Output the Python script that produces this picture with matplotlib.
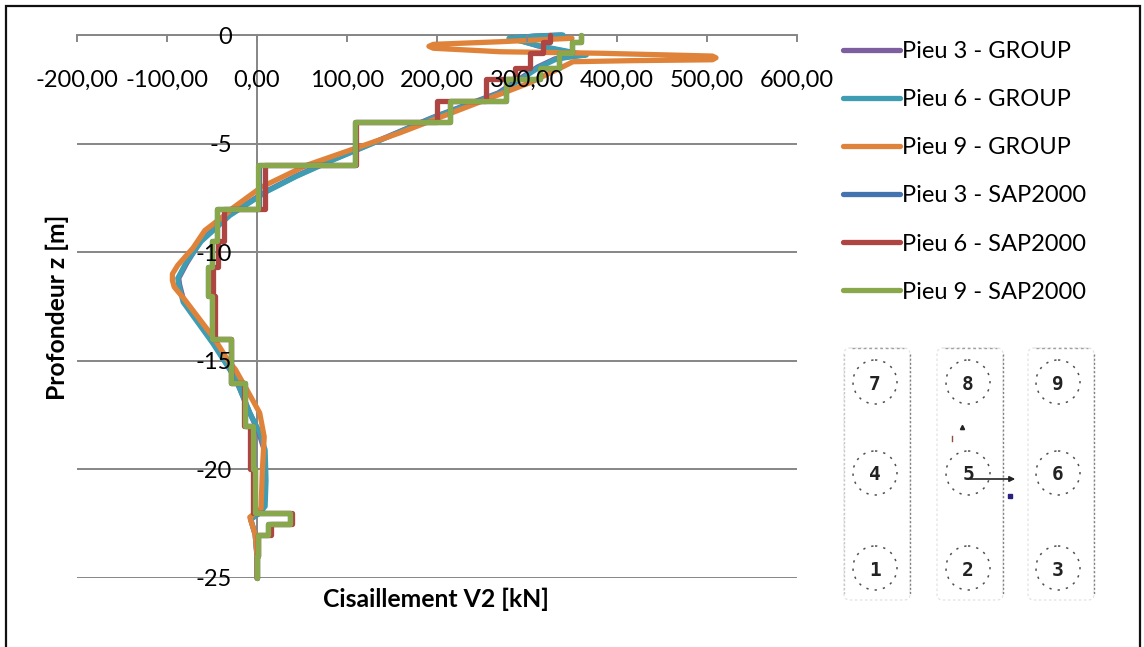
import matplotlib
matplotlib.use('Agg')
import matplotlib.pyplot as plt
from matplotlib.patches import Rectangle, FancyBboxPatch, Circle

plt.rcParams['font.family'] = ['Lato', 'DejaVu Sans']
plt.rcParams['axes.unicode_minus'] = False

# valeurs
x_ticks = [-200, -100, 0, 100, 200, 300, 400, 500, 600]
x_labels = ['-200,00', '-100,00', '0,00', '100,00', '200,00', '300,00', '400,00', '500,00', '600,00']
y_ticks = [0, -5, -10, -15, -20, -25]

# courbes GROUP
z_p6g = [0, -0.05, -0.15, -0.3, -0.5, -0.75, -0.92, -1.0, -1.1, -1.47, -2.67, -3.8, -5.0, -5.76, -6.5, -7.2, -8.3, -9.5, -10.5, -11.2, -11.5, -12.3, -14.2, -15.8, -17.4, -18.3, -19.1, -20.5, -21.7, -22.0, -22.3, -23, -24, -25]
v_p6g = [340, 310, 280, 295, 314, 345, 366, 350, 333, 314, 270, 196, 128, 84, 44, 11, -30, -62, -79, -88, -87, -82, -49, -24, -8, 3, 9, 10, 9, 3, -7, -2, 0, 0]
z_p3g = z_p6g
v_p3g = [338, 308, 282, 296, 312, 342, 362, 347, 331, 312, 268, 195, 127, 83, 43, 10, -31, -63, -78, -87, -86, -81, -48, -24, -8, 2, 8, 9, 8, 3, -7, -2, 0, 0]
z_p9g = [-0.15, -0.31, -0.43, -0.52, -0.61, -0.77, -0.84, -0.97, -1.05, -1.14, -1.18, -1.23, -1.46, -2.2, -4.5, -6, -7, -8, -8.3, -9, -9.8, -10.6, -11, -11.3, -11.6, -12.2, -14, -15, -15.4, -16.5, -17.4, -18.5, -20, -21.8, -22.2, -23, -23.9, -25]
v_p9g = [350, 270, 196, 191, 196, 270, 381, 506, 510, 506, 418, 351, 340, 303, 159, 55, 5, -28, -36, -58, -71, -88, -94, -94, -92, -80, -47, -32, -24, -9, 3, 8, 6, 4.5, -8, -2, 0, 0]

# courbes SAP2000 (paliers)
z_sap = [0, -0.31, -0.31, -0.85, -0.85, -1.53, -1.53, -2.04, -2.04, -3.03, -3.03, -4, -4, -6, -6, -8, -8, -9.5, -9.5, -10.7, -10.7, -12, -12, -14, -14, -16, -16, -18, -18, -20, -20, -22, -22, -22.5, -22.5, -23, -23, -24, -24, -25]
v_p3s = [360, 360, 350, 350, 335, 335, 314, 314, 277, 277, 214, 214, 109, 109, 2, 2, -44, -44, -50, -50, -55, -55, -50, -50, -29, -29, -13, -13, -4, -4, -2, -2, 37, 37, 12, 12, 1, 1, 0, 0]
v_p6s = [325, 325, 318, 318, 303, 303, 287, 287, 254, 254, 200, 200, 110, 110, 9, 9, -37, -37, -43, -43, -49, -49, -47, -47, -29, -29, -15, -15, -8, -8, -5, -5, 39, 39, 16, 16, 1, 1, 0, 0]
v_p9s = [360, 360, 350, 350, 335, 335, 314, 314, 277, 277, 214, 214, 109, 109, 1, 1, -44, -44, -50, -50, -55, -55, -50, -50, -29, -29, -13, -13, -4, -4, -2, -2, 37, 37, 12, 12, 1, 1, 0, 0]

W, H = 1144, 647
fig = plt.figure(figsize=(W / 100, H / 100), dpi=100)
# le cadre sort de l'image en bas
fig.patches.append(Rectangle((6 / W, 1 - 660 / H), 1134 / W, 654 / H, transform=fig.transFigure,
                             fill=False, ec='#111111', lw=1.6))

ax = fig.add_axes([77 / W, 1 - 578 / H, 720 / W, 543 / H])
ax.set_xlim(-200, 600)
ax.set_ylim(-25, 0)
ax.patch.set_alpha(0)
ax.set_axisbelow(False)

gris = '#868686'
ax.hlines(y_ticks, -200, 600, color=gris, lw=1.4, zorder=1)
for s in ['top', 'right']:
    ax.spines[s].set_visible(False)
ax.spines['bottom'].set_position(('data', 0))
ax.spines['left'].set_position(('data', 0))
for s in ['bottom', 'left']:
    ax.spines[s].set_color(gris)
    ax.spines[s].set_linewidth(1.4)
    ax.spines[s].set_zorder(1)

ax.set_xticks(x_ticks, x_labels)
ax.set_yticks(y_ticks)
ax.tick_params(axis='x', direction='out', length=5, width=1.4, color=gris, pad=20, labelsize=17)
ax.tick_params(axis='y', length=0, pad=18, labelsize=17)

lw = 3.8
style = dict(lw=lw, clip_on=False, solid_capstyle='round', solid_joinstyle='round')
ax.plot(v_p3g, z_p3g, color='#7D5FA0', label='Pieu 3 - GROUP', **style)
ax.plot(v_p6g, z_p6g, color='#3E9DB3', label='Pieu 6 - GROUP', **style)
ax.plot(v_p9g, z_p9g, color='#E0833A', label='Pieu 9 - GROUP', **style)
ax.plot(v_p3s, z_sap, color='#4474B0', label='Pieu 3 - SAP2000', **style)
ax.plot(v_p6s, z_sap, color='#AE4543', label='Pieu 6 - SAP2000', **style)
ax.plot(v_p9s, z_sap, color='#88A84B', label='Pieu 9 - SAP2000', **style)

fig.text(436 / W, 1 - 599 / H, 'Cisaillement V2 [kN]', ha='center', va='center', fontsize=17.8, fontweight='bold')
fig.text(57 / W, 1 - 307 / H, 'Profondeur z [m]', ha='center', va='center', rotation=90, fontsize=17.8, fontweight='bold')

ax.legend(loc='upper left', bbox_to_anchor=(843 / W, 1 - 41 / H), bbox_transform=fig.transFigure,
          frameon=False, fontsize=17, handlelength=2.41, handletextpad=0.08, labelspacing=1.15,
          borderaxespad=0, borderpad=0)

# schema des pieux, en pixels de l'image
sch = fig.add_axes([0, 0, 1, 1])
sch.set_xlim(0, W)
sch.set_ylim(H, 0)
sch.axis('off')
sch.patch.set_alpha(0)
for x0, x1 in [(844, 910), (937, 1003), (1028, 1094)]:
    sch.add_patch(FancyBboxPatch((x0 + 6, 354), x1 - x0 - 12, 240, boxstyle='round,pad=6', fill=False,
                                 ec='#e2e2e2', lw=0.9, ls=(0, (2, 2))))
    sch.plot([x0 + 8, x1 - 6], [348, 348], color='#a0a0a0', lw=1, ls=(0, (2, 2)))
    sch.plot([x1, x1], [354, 594], color='#808080', lw=1, ls=(0, (1.5, 1.5)))
sch.plot([844, 844], [354, 594], color='#c8c8c8', lw=1, ls=(0, (1.5, 1.5)))
piles = [('7', 875, 382), ('8', 968, 382), ('9', 1058, 382),
         ('4', 875, 473), ('5', 968, 473), ('6', 1058, 473),
         ('1', 875, 568), ('2', 968, 568), ('3', 1058, 568)]
for nom, cx, cy in piles:
    sch.add_patch(Circle((cx, cy), 22, fill=False, ec='#505050', lw=1.1, ls=(0, (1.5, 4))))
    sch.text(cx, cy + 2, nom, ha='center', va='center', fontsize=14, fontweight='bold', color='#222222',
             family='DejaVu Sans Mono')
sch.annotate('', xy=(1018, 479), xytext=(968, 479), arrowprops=dict(arrowstyle='-|>', color='#222222', lw=1.2, mutation_scale=8))
sch.plot([952, 952], [436, 441], color='#8a5040', lw=1)
sch.plot([962], [427], marker='^', ms=3, color='#222222')
sch.plot([1010], [496], marker='s', ms=3, color='#2a2080')

fig.savefig('out.png', dpi=100)
